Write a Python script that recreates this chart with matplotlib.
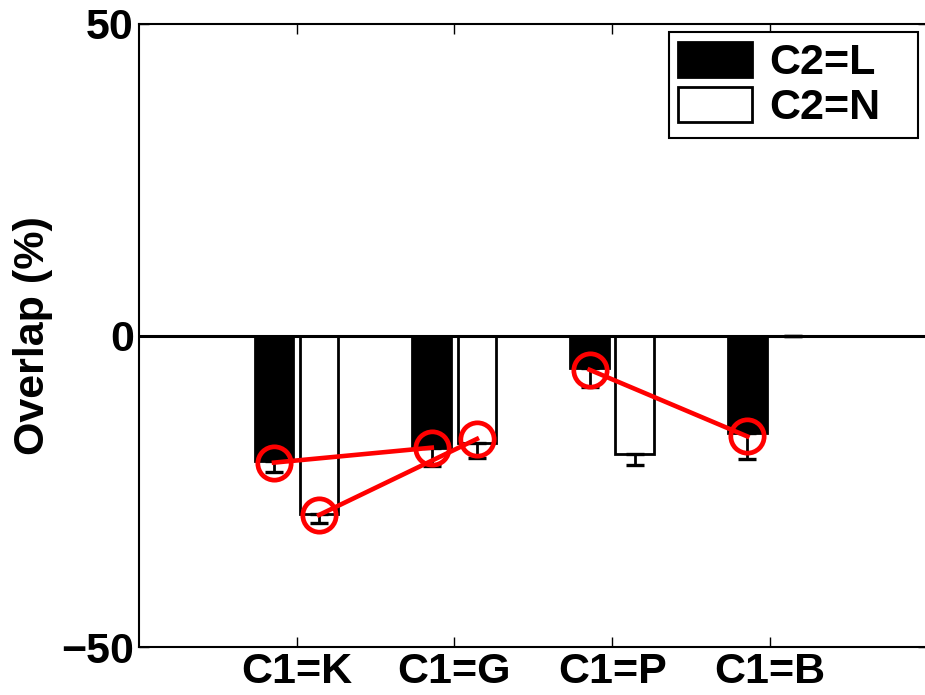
import matplotlib
matplotlib.use("Agg")
import matplotlib.pyplot as plt
import numpy as np

plt.rcParams['font.family'] = ['Liberation Sans', 'DejaVu Sans']
plt.rcParams['font.weight'] = 'bold'

# Overlap per C1 group, split by C2
categories = ['C1=K', 'C1=G', 'C1=P', 'C1=B']
overlap_L = [-20.1, -18.0, -5.2, -15.6]
overlap_N = [-28.6, -17.2, -19.0, 0.0]
err_L = [1.8, 2.9, 3.0, 4.2]
err_N = [1.5, 2.4, 1.8, 0.0]

# highlighted points (red circles), linked by lines
marked_L = [-20.4, -18.0, -5.5, -16.2]
marked_N = [-28.8, -16.6]
links_L = [(0, 1), (2, 3)]
links_N = [(0, 1)]

x = np.arange(1, len(categories) + 1)
off = 0.143
w = 0.245
fs = 31

fig = plt.figure(figsize=(9.25, 6.95), dpi=100)
ax = fig.add_axes([0.150, 0.069, 0.853, 0.8965])

ax.bar(x - off, overlap_L, w, color='black', edgecolor='black', lw=2, label='C2=L', zorder=2)
ax.bar(x + off, overlap_N, w, color='white', edgecolor='black', lw=2, label='C2=N', zorder=2)

ax.errorbar(x - off, overlap_L, yerr=[err_L, np.zeros(4)], fmt='none', ecolor='black',
            elinewidth=2, capsize=6.5, capthick=2.4, zorder=3)
ax.errorbar(x + off, overlap_N, yerr=[err_N, np.zeros(4)], fmt='none', ecolor='black',
            elinewidth=2, capsize=6.5, capthick=2.4, zorder=3)

ax.axhline(0, color='black', lw=2.2, zorder=4)

red = '#ff0000'
for a, b in links_L:
    ax.plot([x[a] - off, x[b] - off], [marked_L[a], marked_L[b]], color=red, lw=3.3, zorder=5)
for a, b in links_N:
    ax.plot([x[a] + off, x[b] + off], [marked_N[a], marked_N[b]], color=red, lw=3.3, zorder=5)
ax.plot(x - off, marked_L, 'o', ms=24, mfc='none', mec=red, mew=3.4, zorder=6)
ax.plot(x[:len(marked_N)] + off, marked_N, 'o', ms=24, mfc='none', mec=red, mew=3.4, zorder=6)

ax.set_xlim(0, 5)
ax.set_ylim(-50, 50)
ax.set_yticks([-50, 0, 50])
ax.set_xticks(x)
ax.set_xticklabels(categories)
ax.tick_params(direction='in', length=7, width=1, labelsize=fs, top=True, right=True)
ax.set_ylabel('Overlap (%)', fontsize=fs, fontweight='bold', labelpad=6)
for s in ax.spines.values():
    s.set_linewidth(1.5)

leg = ax.legend(loc='upper left', bbox_to_anchor=(0.672, 0.814, 0.315, 0.173), mode='expand',
                alignment='center', fontsize=fs, handlelength=1.7, handleheight=0.9,
                handletextpad=0.4, labelspacing=0.08, borderpad=0.22, borderaxespad=0,
                fancybox=False, framealpha=1, edgecolor='black')
leg.get_frame().set_linewidth(1.5)

fig.savefig('out.png', dpi=100)
